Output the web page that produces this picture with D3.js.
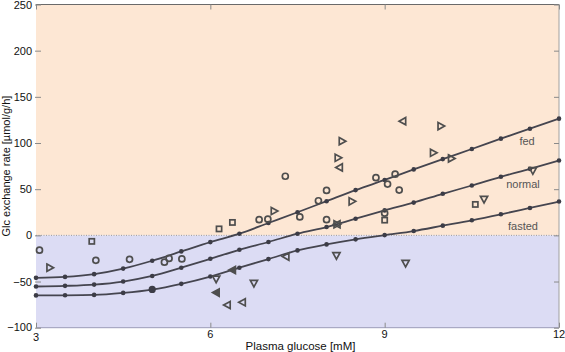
<!DOCTYPE html>
<html><head><meta charset="utf-8">
<script src="https://cdn.jsdelivr.net/npm/d3@7"></script>
<style>body{margin:0;background:#fff;}svg{display:block;font-family:"Liberation Sans",Arial,sans-serif;}</style>
</head><body>
<svg id="c" width="565" height="352"></svg>
<script>
// ---- data ----
const glucose = [3,3.5,4,4.5,5,5.5,6,6.5,7,7.5,8,8.5,9,9.5,10,10.5,11,11.5,12];
const fed    = [-46,-45,-42,-36,-27.5,-17.4,-7.3,1.8,13.4,25,37,49,60,71.4,82.6,93.5,104.7,115.5,126.4];
const normal = [-55.4,-54.7,-53.3,-50,-44,-35,-25.4,-15.6,-7.2,1.8,9,18,27,35.5,45,54,63.4,72,81];
const fasted = [-65,-64.9,-64.5,-62.3,-58.7,-52.5,-44.6,-35,-25.7,-16.3,-9.8,-4.3,0.3,4.7,10.5,16.3,22.8,29.7,36.6];
const curveNames = ["fed","normal","fasted"];
const labelPos = [[11.45,97.5],[11.38,51],[11.38,5.5]];

const circX = [3.06,4.03,4.61,5.21,5.29,5.51,6.84,6.99,7.29,7.54,7.86,8.0,8.0,8.85,9.05,9.18,9.25,9.0];
const circY = [-16,-27,-26,-29,-25,-25.5,17,17.5,64,20,37.5,48.7,17,62.5,55.5,66.3,49,24];
const dotX = [5.0];
const dotY = [-58.5];
const sqX = [3.96,6.15,6.38,9.0,10.56];
const sqY = [-6.5,7,14,16.5,33.5];
const rTriX = [3.24,7.1,8.2,8.27,8.44,9.84,9.97,10.15,8.18];
const rTriY = [-35,26.3,84,102,36.8,89.4,118.3,83.3,12];
const lTriX = [8.22,9.31,7.3,6.55,6.29,8.18];
const lTriY = [73.6,123.7,-23,-72.5,-75.4,12];
const lTriFX = [6.1,6.38];
const lTriFY = [-62,-37.6];
const dTriX = [6.1,6.75,8.17,9.36,10.71,11.55];
const dTriY = [-47.3,-52,-22,-30.3,39,70];

const xTicks = [3,6,9,12];
const yTicks = [-100,-50,0,50,100,150,200,250];

// ---- layout ----
const L=36,R=559,T=4.5,B=327.7;
const svg = d3.select("#c");
const x = d3.scaleLinear().domain([3,12]).range([L,R]);
const y = d3.scaleLinear().domain([-100,250]).range([B,T]);

svg.append("rect").attr("x",L).attr("y",T).attr("width",R-L).attr("height",y(0)-T).attr("fill","#fde7d4");
svg.append("rect").attr("x",L).attr("y",y(0)).attr("width",R-L).attr("height",B-y(0)).attr("fill","#dcdcf4");
svg.append("line").attr("x1",L).attr("x2",R).attr("y1",y(0)).attr("y2",y(0))
  .attr("stroke","#9a9a9a").attr("stroke-width",1).attr("stroke-dasharray","1,1.5");

// frame
svg.append("line").attr("x1",L).attr("x2",R).attr("y1",T).attr("y2",T).attr("stroke","#6a6a6a").attr("stroke-width",1);
svg.append("line").attr("x1",L).attr("x2",R).attr("y1",B).attr("y2",B).attr("stroke","#9a9ab8").attr("stroke-width",1);
svg.append("line").attr("x1",R).attr("x2",R).attr("y1",T).attr("y2",B).attr("stroke","#a0a0a0").attr("stroke-width",1);

// axes via d3
const yAxisL = svg.append("g").attr("transform",`translate(${L+5},0)`)
  .call(d3.axisLeft(y).tickValues(yTicks).tickSize(6).tickPadding(3).tickFormat(d3.format("d")));
const yAxisR = svg.append("g").attr("transform",`translate(${R},0)`)
  .call(d3.axisLeft(y).tickValues(yTicks).tickSize(5).tickFormat(""));
const xAxisB = svg.append("g").attr("transform",`translate(0,${B})`)
  .call(d3.axisTop(x).tickValues(xTicks).tickSize(5).tickFormat(""));
const xAxisT = svg.append("g").attr("transform",`translate(0,${T})`)
  .call(d3.axisBottom(x).tickValues(xTicks).tickSize(5).tickFormat(""));
[yAxisL,yAxisR,xAxisB,xAxisT].forEach(g=>{
  g.select(".domain").remove();
  g.selectAll(".tick line").attr("stroke","#8a8a8a");
});
yAxisL.selectAll(".tick text").attr("font-size",11).attr("fill","#111").attr("font-family","Liberation Sans, Arial, sans-serif");
yAxisL.selectAll(".tick").filter(d=>d===-100).select("text").attr("dy","0.25em");

// x tick labels
svg.append("g").selectAll("text").data(xTicks).join("text")
  .attr("x",d=>x(d)).attr("y",d=>d===3?341:338).attr("text-anchor","middle")
  .attr("font-size",11).attr("fill","#111").text(d=>d);

svg.append("text").attr("x",(L+R)/2+3).attr("y",350).attr("text-anchor","middle")
  .attr("font-size",11.5).attr("fill","#111").text("Plasma glucose [mM]");
svg.append("text").attr("transform",`translate(10,${y(75)}) rotate(-90)`).attr("text-anchor","middle")
  .attr("font-size",11).attr("fill","#111").text("Glc exchange rate [µmol/g/h]");

// curves
const series = [fed,normal,fasted];
const line = d3.line().x((d,i)=>x(glucose[i])).y(d=>y(d)).curve(d3.curveMonotoneX);
series.forEach((s,k)=>{
  svg.append("path").attr("d",line(s)).attr("fill","none").attr("stroke","#45454f").attr("stroke-width",1.8);
  svg.append("g").selectAll("circle").data(s).join("circle")
    .attr("cx",(d,i)=>x(glucose[i])).attr("cy",d=>y(d)).attr("r",2.3).attr("fill","#3c3c46");
  svg.append("text").attr("x",x(labelPos[k][0])).attr("y",y(labelPos[k][1])).attr("text-anchor","middle")
    .attr("font-size",11).attr("fill","#555").text(curveNames[k]);
});

// scatter markers
const mk = "#4e4e4e", sw = 1.7;
const pts = (xs,ys)=>xs.map((v,i)=>[v,ys[i]]);
const g = svg.append("g");
g.selectAll(".ci").data(pts(circX,circY)).join("circle").attr("class","ci")
  .attr("cx",d=>x(d[0])).attr("cy",d=>y(d[1])).attr("r",3).attr("fill","none").attr("stroke",mk).attr("stroke-width",sw);
g.selectAll(".dt").data(pts(dotX,dotY)).join("circle").attr("class","dt")
  .attr("cx",d=>x(d[0])).attr("cy",d=>y(d[1])).attr("r",3.6).attr("fill","#3c3c46");
g.selectAll(".sq").data(pts(sqX,sqY)).join("rect").attr("class","sq")
  .attr("x",d=>x(d[0])-2.6).attr("y",d=>y(d[1])-2.6).attr("width",5.2).attr("height",5.2)
  .attr("fill","none").attr("stroke",mk).attr("stroke-width",sw);
const tri = {
  r: "M-3,-3.6L3.6,0L-3,3.6Z",
  l: "M3,-3.6L-3.6,0L3,3.6Z",
  d: "M-3.6,-3L3.6,-3L0,3.6Z"
};
function triangles(cls,data,path,fill){
  g.selectAll("."+cls).data(data).join("path").attr("class",cls)
    .attr("transform",d=>`translate(${x(d[0])},${y(d[1])})`).attr("d",path)
    .attr("fill",fill).attr("stroke",mk).attr("stroke-width",sw).attr("stroke-linejoin","miter");
}
triangles("tr",pts(rTriX,rTriY),tri.r,"none");
triangles("tl",pts(lTriX,lTriY),tri.l,"none");
triangles("tf",pts(lTriFX,lTriFY),tri.l,mk);
triangles("td",pts(dTriX,dTriY),tri.d,"none");
</script>
</body></html>
